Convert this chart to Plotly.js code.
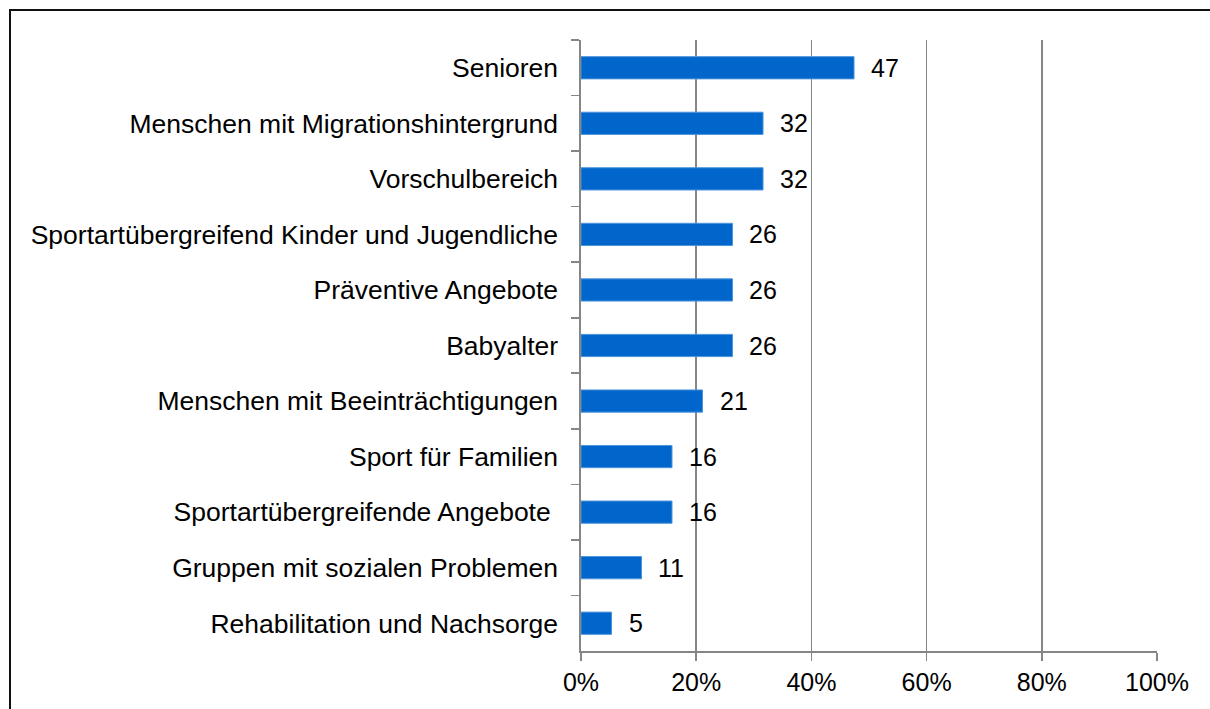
<!DOCTYPE html>
<html>
<head>
<meta charset="utf-8">
<script src="https://cdn.plot.ly/plotly-3.0.1.min.js"></script>
<style>
  body { margin: 0; background: #fff; }
  #wrap { position: relative; width: 1210px; height: 709px; overflow: hidden; }
  #chart { position: absolute; left: 0; top: 0; width: 1210px; height: 709px; }
  #frame { position: absolute; left: 9px; top: 9px; width: 1400px; height: 900px;
           border-left: 2px solid #111; border-top: 2px solid #111; pointer-events: none; }
</style>
</head>
<body>
<div id="wrap">
  <div id="chart"></div>
  <div id="frame"></div>
</div>
<script>
// categories, top to bottom
const categories = [
  "Senioren",
  "Menschen mit Migrationshintergrund",
  "Vorschulbereich",
  "Sportartübergreifend Kinder und Jugendliche",
  "Präventive Angebote",
  "Babyalter",
  "Menschen mit Beeinträchtigungen",
  "Sport für Familien",
  "Sportartübergreifende Angebote\u00a0",
  "Gruppen mit sozialen Problemen",
  "Rehabilitation und Nachsorge"
];
// share in percent
const shares = [47.4, 31.6, 31.6, 26.3, 26.3, 26.3, 21.1, 15.8, 15.8, 10.5, 5.3];
// labels shown next to the bars
const valueLabels = ["47", "32", "32", "26", "26", "26", "21", "16", "16", "11", "5"];
const xTickVals = [0, 0.2, 0.4, 0.6, 0.8, 1.0];
const xTickText = ["0%", "20%", "40%", "60%", "80%", "100%"];

const fontFamily = '"Liberation Sans", Arial, sans-serif';
const gray = "#868686";

const bars = {
  type: "bar",
  orientation: "h",
  y: categories,
  x: shares.map(v => v / 100),
  marker: { color: "#0066cc", line: { color: "#4d94db", width: 1 } },
  hoverinfo: "skip"
};

// value labels to the right of each bar
const labelNotes = categories.map((c, i) => ({
  x: shares[i] / 100,
  y: c,
  text: valueLabels[i],
  xanchor: "left",
  yanchor: "middle",
  xshift: 15,
  showarrow: false,
  font: { size: 25, color: "#000", family: fontFamily }
}));

const layout = {
  width: 1210,
  height: 709,
  margin: { l: 581, r: 53, t: 40, b: 58 },
  paper_bgcolor: "rgba(0,0,0,0)",
  plot_bgcolor: "#fff",
  showlegend: false,
  bargap: 0.6,
  font: { family: fontFamily, color: "#000" },
  xaxis: {
    range: [0, 1],
    tickvals: xTickVals,
    ticktext: xTickText,
    showgrid: true,
    gridcolor: gray,
    gridwidth: 1.6,
    zeroline: false,
    showline: true,
    linecolor: gray,
    linewidth: 1.6,
    ticks: "outside",
    ticklen: 8,
    tickcolor: gray,
    tickwidth: 1.6,
    tickfont: { size: 25, family: fontFamily, color: "#000" }
  },
  yaxis: {
    type: "category",
    autorange: "reversed",
    showgrid: false,
    zeroline: false,
    showline: true,
    linecolor: gray,
    linewidth: 1.6,
    ticks: "outside",
    tickson: "boundaries",
    ticklen: 8,
    tickcolor: gray,
    tickwidth: 1.6,
    ticklabelstandoff: 16,
    tickfont: { size: 26.5, family: fontFamily, color: "#000" }
  },
  annotations: labelNotes
};

Plotly.newPlot("chart", [bars], layout, { displayModeBar: false, staticPlot: true });
</script>
</body>
</html>
